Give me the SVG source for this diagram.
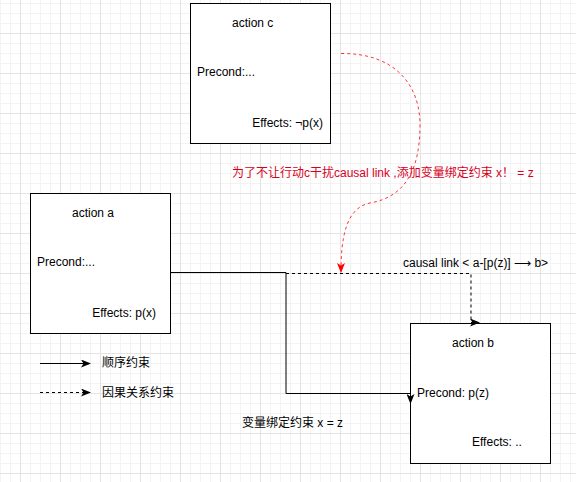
<svg xmlns="http://www.w3.org/2000/svg" width="576" height="482" viewBox="0 0 576 482">
<defs>
<pattern id="minor" x="0" y="3" width="10" height="10" patternUnits="userSpaceOnUse">
<path d="M0,0.5 H10 M0.5,0 V10" fill="none" stroke="#f3f3f3" stroke-width="1"/>
</pattern>
<pattern id="major" x="20" y="33" width="40" height="40" patternUnits="userSpaceOnUse">
<path d="M0,0.5 H40 M0.5,0 V40" fill="none" stroke="#e4e4e4" stroke-width="1"/>
</pattern>
<marker id="arr" viewBox="0 0 10 8" refX="9" refY="4" markerWidth="10" markerHeight="8" markerUnits="userSpaceOnUse" orient="auto">
<path d="M0,0 L10,4 L0,8 L2.5,4 z" fill="#000"/>
</marker>
<marker id="arrRed" viewBox="0 0 10 8" refX="9" refY="4" markerWidth="10" markerHeight="8" markerUnits="userSpaceOnUse" orient="auto">
<path d="M0,0 L10,4 L0,8 L2.5,4 z" fill="#ff0000"/>
</marker>
</defs>
<style>
text{font-family:"Liberation Sans","Noto Sans CJK SC",Arial,sans-serif;font-size:12px;fill:#000}
.box{fill:#fff;stroke:#000;stroke-width:1}
.solid{fill:none;stroke:#000;stroke-width:1}
.dash{fill:none;stroke:#000;stroke-width:1;stroke-dasharray:3,3}
.red{fill:none;stroke:#ff3333;stroke-width:1;stroke-dasharray:3,3}
.redt{fill:#d8001c}
</style>
<rect width="576" height="482" fill="#fff"/>
<rect width="576" height="482" fill="url(#minor)"/>
<rect width="576" height="482" fill="url(#major)"/>

<g id="action-c">
<rect class="box" x="190.5" y="3.5" width="140" height="140"/>
<text x="232" y="27">action c</text>
<text x="197" y="76">Precond:...</text>
<text x="323" y="127" text-anchor="end">Effects: ¬p(x)</text>
</g>

<g id="action-a">
<rect class="box" x="30.5" y="193.5" width="140" height="140"/>
<text x="72" y="217">action a</text>
<text x="37" y="266">Precond:...</text>
<text x="156" y="317" text-anchor="end">Effects: p(x)</text>
</g>

<g id="action-b">
<rect class="box" x="410.5" y="323.5" width="140" height="140"/>
<text x="452" y="347">action b</text>
<text x="417" y="397">Precond: p(z)</text>
<text x="472" y="446">Effects: ..</text>
</g>

<g id="connectors">
<path class="solid" d="M170.5,272.5 H286 V393.5 H410.5 V403" marker-end="url(#arr)"/>
<path class="dash" d="M286,273.5 H471 V322.5 H479" marker-end="url(#arr)"/>
<path class="red" d="M341,53.5 C395,53 420,85 420,125 C420,170 405,197 370,203 C345,208 341,240 341,272" marker-end="url(#arrRed)"/>
<path class="solid" d="M40,363.5 H90" marker-end="url(#arr)"/>
<path class="dash" d="M40,392.5 H90" marker-end="url(#arr)"/>
</g>

<g id="labels">
<text class="redt" x="232" y="177">为了不让行动c干扰causal link ,添加变量绑定约束  x！ = z</text>
<text x="403" y="267">causal link &lt; a-[p(z)] ⟶ b&gt;</text>
<text x="102" y="367">顺序约束</text>
<text x="102" y="397">因果关系约束</text>
<text x="242" y="427">变量绑定约束 x = z</text>
</g>
</svg>
